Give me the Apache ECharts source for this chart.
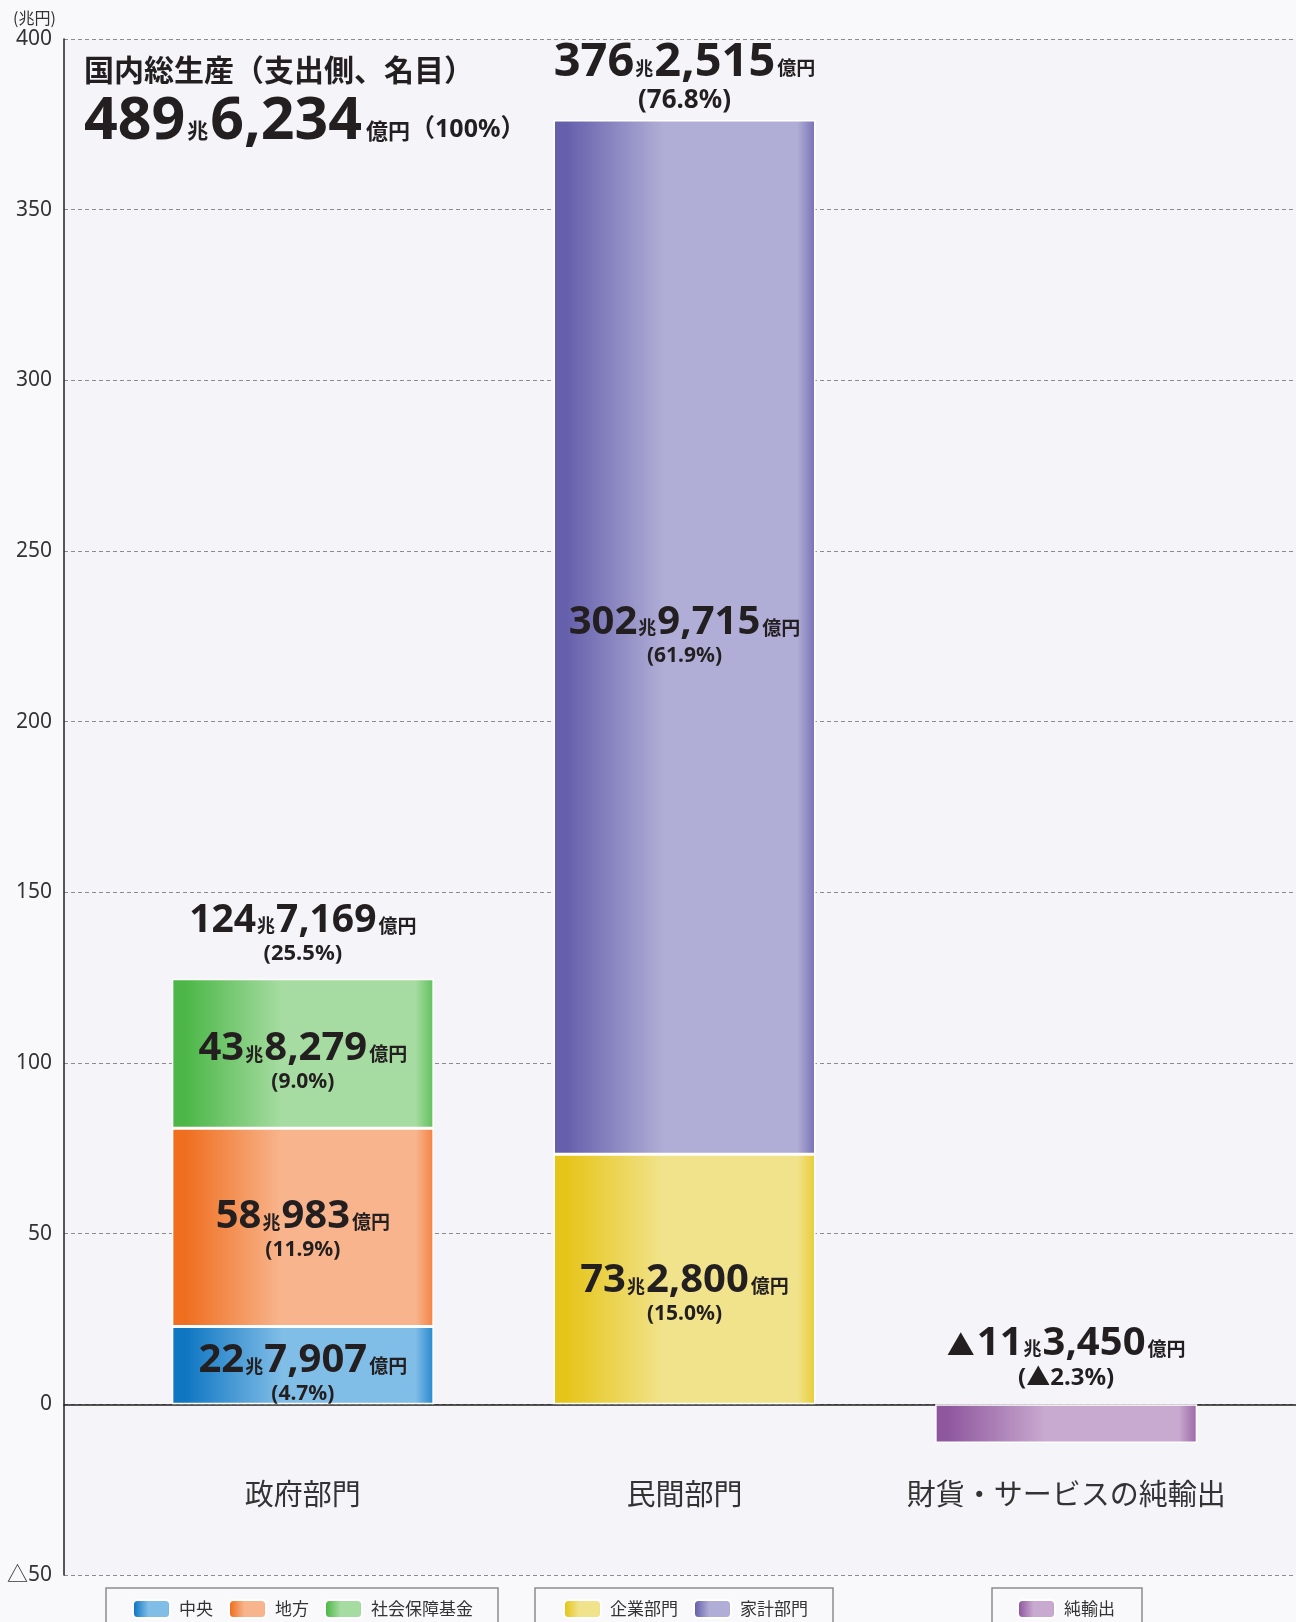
<!DOCTYPE html>
<html>
<head>
<meta charset="utf-8">
<script src="https://cdn.jsdelivr.net/npm/echarts@6/dist/echarts.min.js"></script>
<style>
  html, body { margin: 0; padding: 0; background: #f9f9fb; }
  #main { width: 1296px; height: 1622px; }
</style>
</head>
<body>
<div id="main"></div>
<script>
// カテゴリ
var categories = ['政府部門', '民間部門', '財貨・サービスの純輸出'];
// 各部門の値（兆円）
var chuo = [22.7907, '-', '-'];
var chiho = [58.0983, '-', '-'];
var shakai = [43.8279, '-', '-'];
var kigyo = ['-', 73.2800, '-'];
var kakei = ['-', 302.9715, '-'];
var junyushutsu = ['-', '-', -11.3450];
// 構成比（%）
var chuoPct = [4.7, null, null];
var chihoPct = [11.9, null, null];
var shakaiPct = [9.0, null, null];
var kigyoPct = [null, 15.0, null];
var kakeiPct = [null, 61.9, null];
// 部門計
var totals = [124.7169, 376.2515, -11.3450];
var totalPct = [25.5, 76.8, -2.3];
// 国内総生産
var gdpTotal = 489.6234;
var gdpPct = 100;
// 軸
var yTicks = [-50, 0, 50, 100, 150, 200, 250, 300, 350, 400];

var NUM = '"Noto Sans", "Noto Sans CJK JP", sans-serif';
var JP = '"Noto Sans CJK JP", sans-serif';

function grad(dark, light, edge) {
    return new echarts.graphic.LinearGradient(0, 0, 1, 0, [
        { offset: 0, color: dark },
        { offset: 0.05, color: dark },
        { offset: 0.42, color: light },
        { offset: 0.93, color: light },
        { offset: 1, color: edge }
    ]);
}

// 兆・億に分ける
function splitCho(v) {
    var n = Math.round(Math.abs(v) * 10000);
    var cho = Math.floor(n / 10000);
    var oku = n % 10000;
    return { cho: String(cho), oku: oku.toLocaleString('en-US') };
}

function pctText(p) {
    return p < 0 ? '(▲' + (-p).toFixed(1) + '%)' : '(' + p.toFixed(1) + '%)';
}

var innerRich = {
    b: { fontFamily: NUM, fontWeight: 'bold', fontSize: 40, color: '#231f20', lineHeight: 42 },
    u: { fontFamily: JP, fontWeight: 'bold', fontSize: 18, color: '#231f20', padding: [11, 1, 0, 1] },
    y: { fontFamily: JP, fontWeight: 'bold', fontSize: 19, color: '#231f20', padding: [11, 0, 0, 2] },
    p: { fontFamily: NUM, fontWeight: 'bold', fontSize: 21, color: '#231f20', lineHeight: 26 }
};

function innerLabel(pcts, dy) {
    return {
        show: true,
        position: 'inside',
        offset: [0, dy],
        formatter: function (p) {
            var s = splitCho(p.value);
            return '{b|' + s.cho + '}{u|兆}{b|' + s.oku + '}{y|億円}\n{p|' + pctText(pcts[p.dataIndex]) + '}';
        },
        rich: innerRich
    };
}

function barSeries(name, data, color, label) {
    return {
        name: name,
        type: 'bar',
        stack: 'all',
        stackStrategy: 'positive',
        xAxisIndex: 1,
        yAxisIndex: 1,
        barWidth: 262,
        data: data,
        itemStyle: { color: color, borderColor: '#ffffff', borderWidth: 1.5 },
        label: label || { show: false }
    };
}

var topRich = {
    b0: { fontFamily: NUM, fontWeight: 'bold', fontSize: 39, color: '#231f20', lineHeight: 40 },
    b1: { fontFamily: NUM, fontWeight: 'bold', fontSize: 47, color: '#231f20', lineHeight: 48 },
    b2: { fontFamily: NUM, fontWeight: 'bold', fontSize: 40, color: '#231f20', lineHeight: 42 },
    t2: { fontFamily: JP, fontSize: 28, color: '#231f20', padding: [4, 2, 0, 0] },
    u: { fontFamily: JP, fontWeight: 'bold', fontSize: 18, color: '#231f20', padding: [10, 1, 0, 1] },
    y: { fontFamily: JP, fontWeight: 'bold', fontSize: 19, color: '#231f20', padding: [10, 0, 0, 2] },
    p0: { fontFamily: NUM, fontWeight: 'bold', fontSize: 22, color: '#231f20', lineHeight: 26 },
    p1: { fontFamily: NUM, fontWeight: 'bold', fontSize: 26, color: '#231f20', lineHeight: 28 },
    p2: { fontFamily: NUM, fontWeight: 'bold', fontSize: 24, color: '#231f20', lineHeight: 28 }
};

var option = {
    backgroundColor: '#f9f9fb',
    animation: false,
    textStyle: { fontFamily: JP },
    grid: [
        { left: 64, right: 0, top: 39, bottom: 47, show: true, backgroundColor: '#f4f4f9', borderWidth: 0 },
        { left: 112, right: 39, top: 39, bottom: 47 }
    ],
    xAxis: [
        {
            type: 'value', gridIndex: 0, min: 0, max: 1,
            axisLine: { show: true, onZero: true, lineStyle: { color: '#231f20', width: 1.5 } },
            axisTick: { show: false }, axisLabel: { show: false }, splitLine: { show: false }
        },
        {
            type: 'category', gridIndex: 1, data: categories,
            offset: -96,
            axisLine: { show: false }, axisTick: { show: false },
            axisLabel: { interval: 0, fontSize: 29, color: '#333333', margin: 0, fontFamily: JP }
        }
    ],
    yAxis: [
        {
            type: 'value', gridIndex: 0, min: -50, max: 400, interval: 50,
            axisLine: { show: true, lineStyle: { color: '#231f20', width: 1.5 } },
            axisTick: { show: false },
            axisLabel: {
                fontSize: 21, color: '#333333', margin: 12, fontFamily: NUM,
                formatter: function (v) { return yTicks.indexOf(v) < 0 ? '' : (v < 0 ? '△' + (-v) : String(v)); }
            },
            splitLine: { show: true, lineStyle: { color: '#8c8c8c', width: 1, type: [4, 3] } }
        },
        {
            type: 'value', gridIndex: 1, min: -50, max: 400, interval: 50,
            show: false
        }
    ],
    legend: [
        {
            data: ['中央', '地方', '社会保障基金'],
            left: 106, top: 1588, itemWidth: 37, itemHeight: 18, itemGap: 15,
            padding: [11, 25, 20, 26], borderColor: '#8c8c8c', borderWidth: 1.5,
            textStyle: { fontSize: 17, color: '#333333', fontFamily: JP, padding: [0, 0, 0, 4] }
        },
        {
            data: ['企業部門', '家計部門'],
            left: 535, top: 1588, itemWidth: 37, itemHeight: 18, itemGap: 15,
            padding: [11, 25, 20, 28], borderColor: '#8c8c8c', borderWidth: 1.5,
            textStyle: { fontSize: 17, color: '#333333', fontFamily: JP, padding: [0, 0, 0, 4] }
        },
        {
            data: ['純輸出'],
            left: 992, top: 1588, itemWidth: 37, itemHeight: 18, itemGap: 15,
            padding: [11, 27, 20, 25], borderColor: '#8c8c8c', borderWidth: 1.5,
            textStyle: { fontSize: 17, color: '#333333', fontFamily: JP, padding: [0, 0, 0, 4] }
        }
    ],
    graphic: [
        {
            type: 'text', left: 13, top: 10,
            style: { text: '(兆円)', fontSize: 16, fill: '#333333', fontFamily: JP }
        },
        {
            type: 'text', left: 84, top: 55,
            style: {
                text: '{t|国内総生産（支出側、名目）}\n{n|' + splitCho(gdpTotal).cho + '}{u|兆}{n|' + splitCho(gdpTotal).oku + '}{y|億円}{q|（' + gdpPct + '%）}',
                rich: {
                    t: { fontFamily: JP, fontWeight: 'bold', fontSize: 30, fill: '#231f20', lineHeight: 42 },
                    n: { fontFamily: NUM, fontWeight: 'bold', fontSize: 59, fill: '#231f20', lineHeight: 62 },
                    u: { fontFamily: JP, fontWeight: 'bold', fontSize: 21, fill: '#231f20', padding: [17, 2, 0, 2] },
                    y: { fontFamily: JP, fontWeight: 'bold', fontSize: 22, fill: '#231f20', padding: [17, 0, 0, 4] },
                    q: { fontFamily: NUM, fontWeight: 'bold', fontSize: 25, fill: '#231f20', padding: [15, 0, 0, 0] }
                }
            }
        }
    ],
    series: [
        barSeries('中央', chuo, grad('#0f76c2', '#80bde7', '#2488cc'), innerLabel(chuoPct, 8)),
        barSeries('地方', chiho, grad('#ef6e1f', '#f8b58d', '#f38241'), innerLabel(chihoPct, 2)),
        barSeries('社会保障基金', shakai, grad('#4cb747', '#a6dca1', '#5fc05a'), innerLabel(shakaiPct, 8)),
        barSeries('企業部門', kigyo, grad('#e6c51a', '#f1e38c', '#e9cc34'), innerLabel(kigyoPct, 14)),
        barSeries('家計部門', kakei, grad('#6660ac', '#b0aed6', '#7670b4'), innerLabel(kakeiPct, -2)),
        barSeries('純輸出', junyushutsu, grad('#8f589e', '#c8a9cf', '#9a66a5')),
        {
            // 部門計のラベル用（高さ0）
            name: '計',
            type: 'bar',
            stack: 'all',
            stackStrategy: 'positive',
            xAxisIndex: 1,
            yAxisIndex: 1,
            barWidth: 262,
            data: [0, { value: 0, label: { distance: 5 } }, 0],
            itemStyle: { color: 'rgba(0,0,0,0)' },
            label: {
                show: true,
                position: 'top',
                distance: 12,
                formatter: function (p) {
                    var i = p.dataIndex;
                    var s = splitCho(totals[i]);
                    var tri = totals[i] < 0 ? '{t2|▲}' : '';
                    return tri + '{b' + i + '|' + s.cho + '}{u|兆}{b' + i + '|' + s.oku + '}{y|億円}\n{p' + i + '|' + pctText(totalPct[i]) + '}';
                },
                rich: topRich
            }
        }
    ]
};

var chart = echarts.init(document.getElementById('main'));
chart.setOption(option);
</script>
</body>
</html>
